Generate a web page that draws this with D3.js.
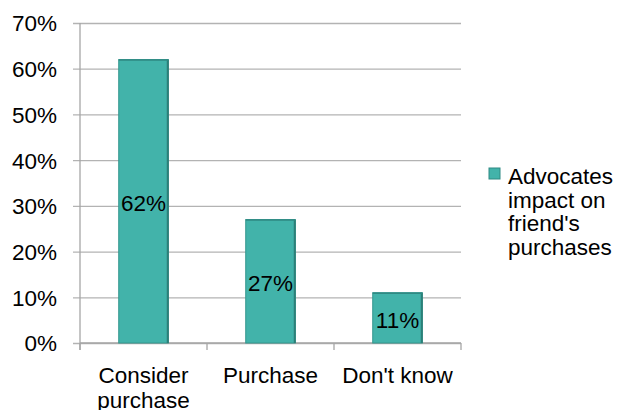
<!DOCTYPE html>
<html>
<head>
<meta charset="utf-8">
<style>
  body { margin: 0; background: #fff; }
  text { font-family: "Liberation Sans", Arial, sans-serif; fill: #000; }
</style>
</head>
<body>
<svg width="619" height="410"></svg>
<script src="https://d3js.org/d3.v7.min.js"></script>
<script>
var categories = [["Consider", "purchase"], ["Purchase"], ["Don't know"]];
var values = [0.62, 0.27, 0.11];
var yTicks = [0, 0.1, 0.2, 0.3, 0.4, 0.5, 0.6, 0.7];
var legendLines = ["Advocates", "impact on", "friend's", "purchases"];

var fs = 22.5;
var svg = d3.select("svg"),
    margin = {top: 23, right: 158, bottom: 67, left: 80},
    width = 619 - margin.left - margin.right,
    height = 410 - margin.top - margin.bottom,
    g = svg.append("g").attr("transform", "translate(" + margin.left + "," + margin.top + ")");

var x = d3.scaleBand()
    .domain(d3.range(categories.length))
    .range([0, width])
    .paddingInner(0.61)
    .paddingOuter(0.305);

var y = d3.scaleLinear()
    .domain([0, 0.7])
    .range([height, 0]);

// gridlines + y ticks
g.append("g")
    .call(d3.axisLeft(y).tickValues(yTicks).tickSize(-width).tickSizeOuter(0)
        .tickFormat(d3.format(".0%")).tickPadding(23))
    .call(function(a) {
      a.select(".domain").remove();
      a.selectAll(".tick line").attr("stroke", "#b3b3b3").attr("x1", -7).attr("stroke-width", 1.3);
      a.selectAll(".tick text").attr("font-size", fs).attr("dy", "0.35em");
    });

// y axis line
g.append("line")
    .attr("x1", 0).attr("x2", 0).attr("y1", 0).attr("y2", height + 7)
    .attr("stroke", "#a6a6a6").attr("stroke-width", 1.3);

// x axis
g.append("g")
    .attr("transform", "translate(0," + height + ")")
    .call(function(a) {
      a.append("line").attr("x1", 0).attr("x2", width).attr("stroke", "#a6a6a6").attr("stroke-width", 1.3);
      a.selectAll(".ct").data(d3.range(categories.length + 1)).enter().append("line")
          .attr("x1", function(i) { return i * x.step(); })
          .attr("x2", function(i) { return i * x.step(); })
          .attr("y1", 0).attr("y2", 7)
          .attr("stroke", "#a6a6a6").attr("stroke-width", 1.3);
    });

// category labels
g.selectAll(".cat").data(categories).enter().append("text")
    .attr("class", "cat")
    .attr("text-anchor", "middle")
    .attr("font-size", fs)
    .attr("transform", function(d, i) { return "translate(" + (x(i) + x.bandwidth() / 2) + "," + (height + 40) + ")"; })
    .selectAll("tspan").data(function(d) { return d; }).enter().append("tspan")
    .attr("x", 0)
    .attr("y", function(d, j) { return j * 25; })
    .text(function(d) { return d; });

// bars
var bars = g.selectAll(".bar").data(values).enter().append("g").attr("class", "bar");
bars.append("rect")
    .attr("x", function(d, i) { return x(i); })
    .attr("y", function(d) { return y(d); })
    .attr("width", x.bandwidth())
    .attr("height", function(d) { return height - y(d); })
    .attr("fill", "#42b3aa")
    .attr("stroke", "#35968e")
    .attr("stroke-width", 1);
bars.append("line")
    .attr("x1", function(d, i) { return x(i) + x.bandwidth() - 0.5; })
    .attr("x2", function(d, i) { return x(i) + x.bandwidth() - 0.5; })
    .attr("y1", function(d) { return y(d); })
    .attr("y2", height)
    .attr("stroke", "#2c7f78").attr("stroke-width", 2);
bars.append("line")
    .attr("x1", function(d, i) { return x(i); })
    .attr("x2", function(d, i) { return x(i) + x.bandwidth(); })
    .attr("y1", function(d) { return y(d) + 0.5; })
    .attr("y2", function(d) { return y(d) + 0.5; })
    .attr("stroke", "#2f8a83").attr("stroke-width", 1.5);
bars.append("text")
    .attr("x", function(d, i) { return x(i) + x.bandwidth() / 2; })
    .attr("y", function(d) { return (y(d) + height) / 2 + 2; })
    .attr("dy", "0.35em")
    .attr("text-anchor", "middle")
    .attr("font-size", fs)
    .text(function(d) { return d3.format(".0%")(d); });

// legend
var legend = svg.append("g").attr("transform", "translate(489,168)");
legend.append("rect")
    .attr("width", 11).attr("height", 11)
    .attr("fill", "#42b3aa").attr("stroke", "#2f8a83").attr("stroke-width", 1);
legend.append("text")
    .attr("font-size", fs)
    .selectAll("tspan").data(legendLines).enter().append("tspan")
    .attr("x", 19)
    .attr("y", function(d, i) { return 16 + i * 23.5; })
    .text(function(d) { return d; });
</script>
</body>
</html>
